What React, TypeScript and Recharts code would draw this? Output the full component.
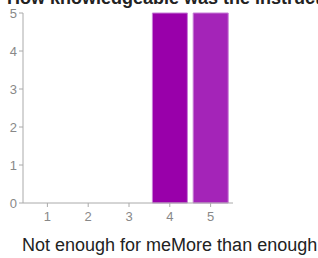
import React from "react";
import { Bar, BarChart, Cell, XAxis, YAxis } from "recharts";

const ratings = ["1", "2", "3", "4", "5"];
const counts = [0, 0, 0, 5, 5];
const barColors = ["#7b0099", "#8a00a3", "#9100a8", "#9900aa", "#a424b8"];
const yTicks = [0, 1, 2, 3, 4, 5];

const title = "How knowledgeable was the instructor?";
const lowLabel = "Not enough for me";
const highLabel = "More than enough";

const data = ratings.map((r, i) => ({ rating: r, count: counts[i] }));

const font = "'Liberation Sans', Arial, sans-serif";

export default function App() {
	return (
		<div
			style={{
				position: "absolute",
				left: 0,
				top: 0,
				width: 318,
				height: 258,
				overflow: "hidden",
				background: "#fff",
				fontFamily: font,
			}}
		>
			<div
				style={{
					position: "absolute",
					left: 7,
					top: -12,
					fontSize: 18,
					fontWeight: "bold",
					whiteSpace: "nowrap",
					color: "#222",
				}}
			>
				{title}
			</div>
			<BarChart
				width={318}
				height={258}
				data={data}
				margin={{ top: 13, right: 85, bottom: 25, left: 0 }}
				barSize={35}
			>
				<YAxis
					width={23}
					domain={[0, 5]}
					ticks={yTicks}
					interval={0}
					tickSize={4}
					axisLine={{ stroke: "#aaa" }}
					tickLine={{ stroke: "#aaa" }}
					tick={{ fill: "#888", fontSize: 13, fontFamily: font }}
				/>
				<XAxis
					dataKey='rating'
					height={30}
					padding={{ left: 4, right: 2 }}
					tickSize={4}
					axisLine={{ stroke: "#aaa" }}
					tickLine={{ stroke: "#aaa" }}
					tick={{ fill: "#888", fontSize: 13, fontFamily: font, dy: 3 }}
				/>
				<Bar dataKey='count' isAnimationActive={false} stroke='#c77fd6' strokeWidth={1}>
					{data.map((d, i) => (
						<Cell key={d.rating} fill={barColors[i]} />
					))}
				</Bar>
			</BarChart>
			<div
				style={{
					position: "absolute",
					left: 22,
					top: 235,
					fontSize: 18,
					whiteSpace: "nowrap",
					color: "#222",
				}}
			>
				<span>{lowLabel}</span>
				<span>{highLabel}</span>
			</div>
		</div>
	);
}
